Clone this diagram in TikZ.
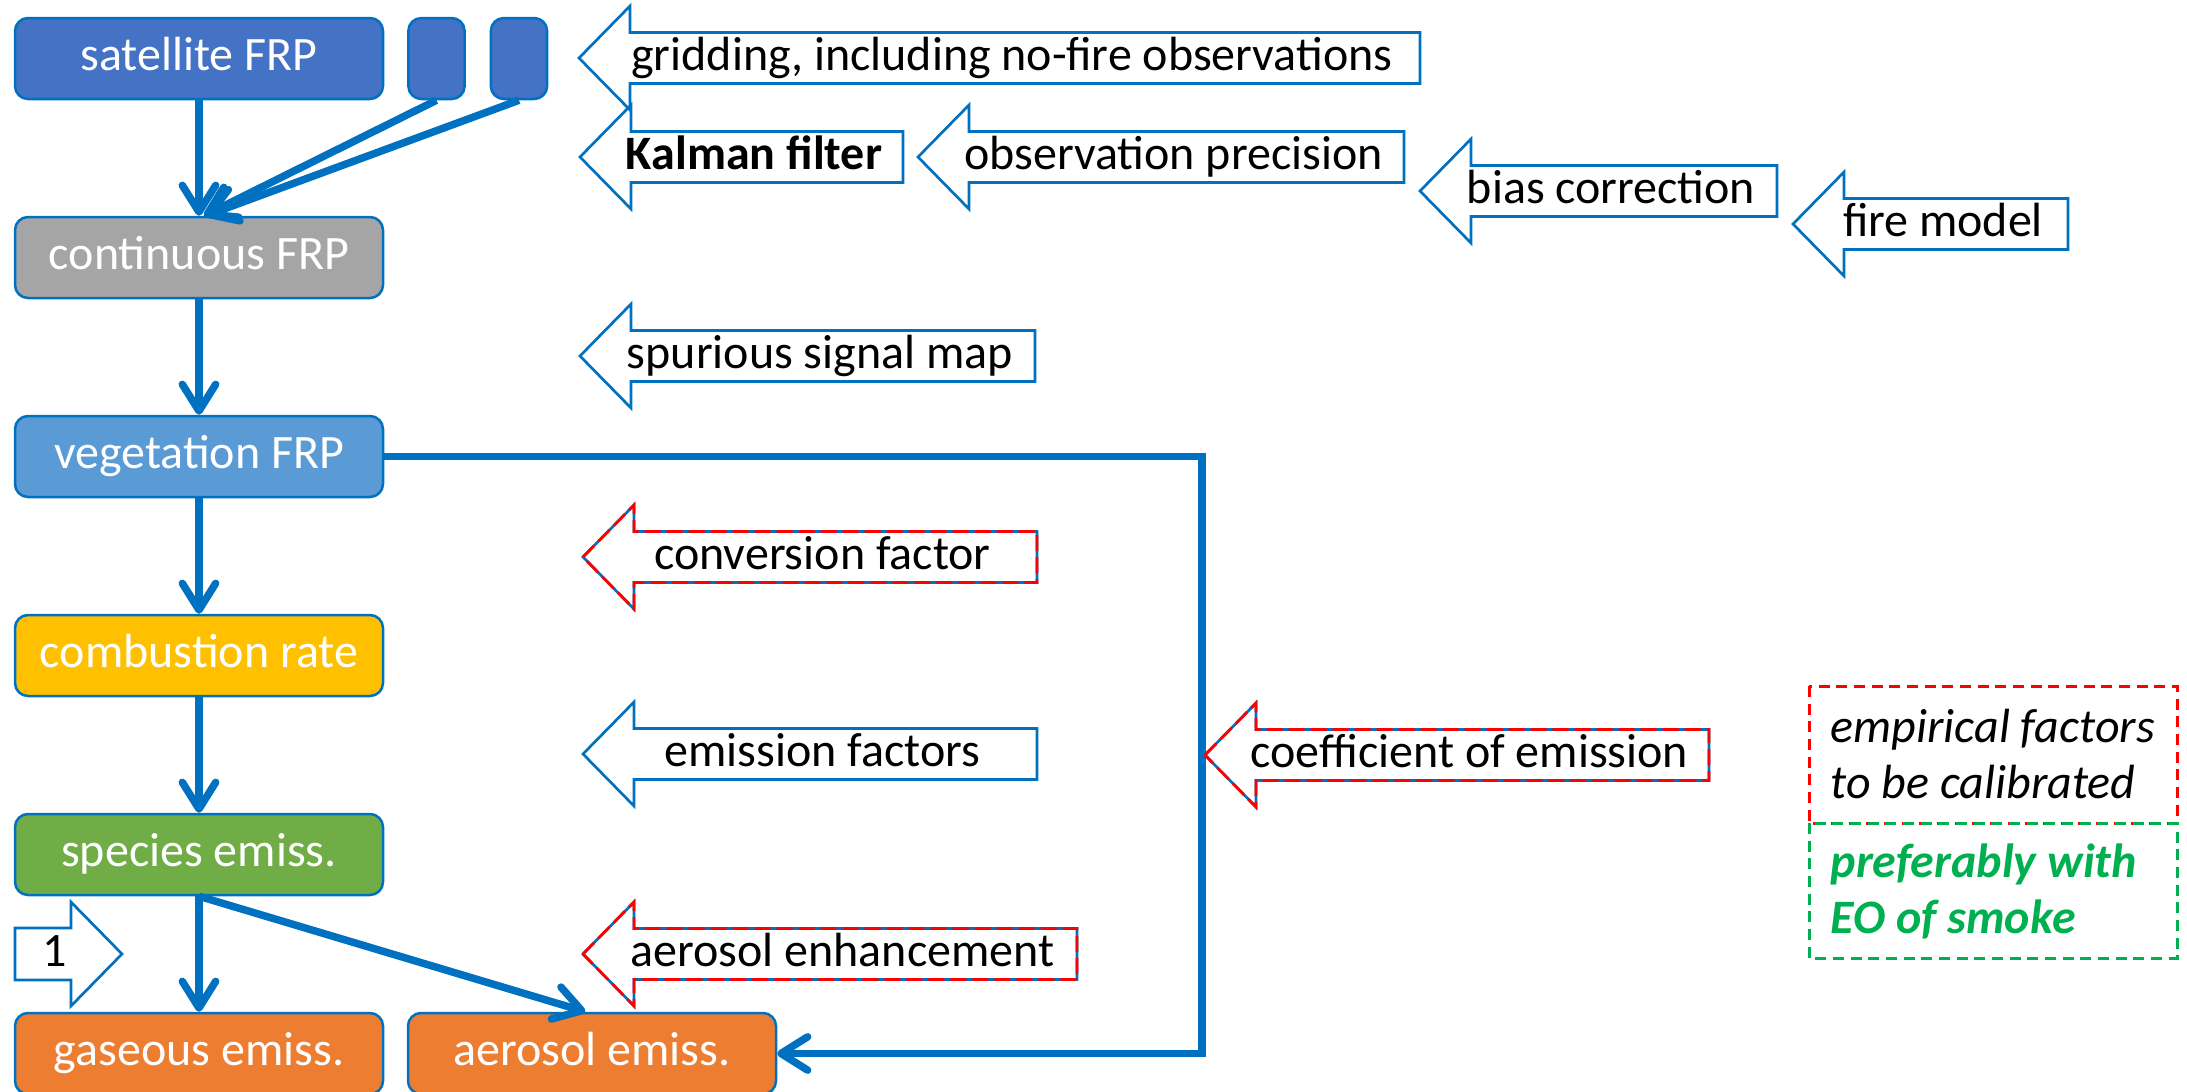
\documentclass[tikz,border=0pt]{standalone}
\usepackage{fontspec}
\setmainfont{Carlito}
\usetikzlibrary{arrows.meta}

\definecolor{lineblue}{HTML}{0070C0}
\definecolor{satblue}{HTML}{4472C4}
\definecolor{contgray}{HTML}{A5A5A5}
\definecolor{vegblue}{HTML}{5B9BD5}
\definecolor{combgold}{HTML}{FFC000}
\definecolor{specgreen}{HTML}{70AD47}
\definecolor{emorange}{HTML}{ED7D31}
\definecolor{calred}{HTML}{FF0000}
\definecolor{eogreen}{HTML}{00B050}

\newcommand{\mainsize}{\fontsize{14.4pt}{16.8pt}\selectfont}

\tikzset{
  flowbox/.style={draw=lineblue, line width=0.75pt, rounded corners=3.9pt,
    minimum width=110.4pt, minimum height=24.3pt, inner sep=0pt,
    text=white, font=\mainsize, text height=0.85em, text depth=0.13em},
  stubbox/.style={flowbox, minimum width=16.9pt},
  flow/.style={draw=lineblue, line width=2.25pt,
    -{Straight Barb[length=8pt,width=10pt,round]}},
  loopline/.style={draw=lineblue, line width=2.25pt},
  blockline/.style={draw=lineblue, line width=0.8pt, line join=miter},
  calib/.style={draw=calred, line width=0.85pt, dash pattern=on 4.8pt off 1.8pt,
    line join=miter, preaction={draw=lineblue, solid, line width=0.8pt}},
  arrtext/.style={font=\mainsize, inner sep=0pt, text height=0.85em, text depth=0.13em},
  legtext/.style={font=\mainsize, inner sep=0pt},
  legred/.style={draw=calred, line width=0.9pt, dash pattern=on 3.3pt off 2pt},
  leggreen/.style={draw=eogreen, line width=0.9pt, dash pattern=on 3.3pt off 2pt},
}

% left-pointing block arrow: #1 outline style, #2 name, #3 tip x, #4 tip y, #5 right x, #6 text
\newcommand{\leftblock}[6]{%
  \draw[#1] (#3,#4) -- ({#3+51},{#4-52}) -- ({#3+51},{#4-25.5}) -- (#5,{#4-25.5})
    -- (#5,{#4+25.5}) -- ({#3+51},{#4+25.5}) -- ({#3+51},{#4+52}) -- cycle;
  \node[arrtext] (#2) at ({(#3+51+#5)/2-13},#4) {#6};
}

\begin{document}
\begin{tikzpicture}[x=0.3pt,y=-0.3pt]
  \useasboundingbox (0,0) rectangle (2187,1092);
  \clip (0,0) rectangle (2187,1092);

  % processing chain
  \node[flowbox, fill=satblue]   (sat)  at (199,58.5)   {satellite FRP};
  \node[stubbox, fill=satblue]   (s1)   at (436.5,58.5) {};
  \node[stubbox, fill=satblue]   (s2)   at (519,58.5)   {};
  \node[flowbox, fill=contgray]  (cont) at (199,257.5)  {continuous FRP};
  \node[flowbox, fill=vegblue]   (veg)  at (199,456.5)  {vegetation FRP};
  \node[flowbox, fill=combgold]  (comb) at (199,655.5)  {combustion rate};
  \node[flowbox, fill=specgreen] (spec) at (199,854.5)  {species emiss.};
  \node[flowbox, fill=emorange]  (gas)  at (199,1053.5) {gaseous emiss.};
  \node[flowbox, fill=emorange]  (aer)  at (592,1053.5) {aerosol emiss.};

  % connectors
  \draw[flow] (sat.south) -- (cont.north);
  \draw[flow] (s1.south) -- ([xshift=1.5pt]cont.north);
  \draw[flow] (s2.south) -- ([xshift=2pt]cont.north);
  \draw[flow] (cont.south) -- (veg.north);
  \draw[flow] (veg.south) -- (comb.north);
  \draw[flow] (comb.south) -- (spec.north);
  \draw[flow] (spec.south) -- (gas.north);
  \draw[flow] (spec.south) -- ([xshift=-2pt]aer.north);
  \coordinate (bend) at (1202,456.5);
  \draw[loopline] (veg.east) -- (bend) |- ([xshift=4pt]aer.east);
  \draw[flow] ([xshift=5pt]aer.east) -- (aer.east);

  % inputs to the chain
  \leftblock{blockline}{grid}{579}{58}{1420}{gridding, including no-fire observations}
  \leftblock{blockline}{kalman}{580}{157}{903}{\bfseries Kalman filter}
  \leftblock{blockline}{obsprec}{918}{157}{1404}{observation precision}
  \leftblock{blockline}{bias}{1420}{191}{1777}{bias correction}
  \leftblock{blockline}{firemod}{1793}{224}{2068}{fire model}
  \leftblock{blockline}{spur}{580}{356}{1035}{spurious signal map}
  \leftblock{calib}{conv}{583}{557}{1037}{conversion factor}
  \leftblock{blockline}{emfac}{583}{754}{1037}{emission factors}
  \leftblock{calib}{coef}{1205}{755}{1709}{coefficient of emission}
  \leftblock{calib}{aeroenh}{583}{954}{1077}{aerosol enhancement}

  % right-pointing block arrow for the unit factor
  \draw[blockline] (15,928) -- (71,928) -- (71,902) -- (122,954) -- (71,1006)
    -- (71,980) -- (15,980) -- cycle;
  \node[arrtext] (one) at (55,954) {1};

  % legend
  \draw[legred] (1809,686) rectangle (2177,823);
  \draw[leggreen] (1809,823) rectangle (2177,958);
  \node[legtext, anchor=base west] (leg1) at (1830,742) {\itshape empirical factors};
  \node[legtext, anchor=base west] (leg2) at (1830,798) {\itshape to be calibrated};
  \node[legtext, anchor=base west, text=eogreen] (leg3) at (1830,877) {\bfseries\itshape preferably with};
  \node[legtext, anchor=base west, text=eogreen] (leg4) at (1830,933) {\bfseries\itshape EO of smoke};
\end{tikzpicture}
\end{document}
